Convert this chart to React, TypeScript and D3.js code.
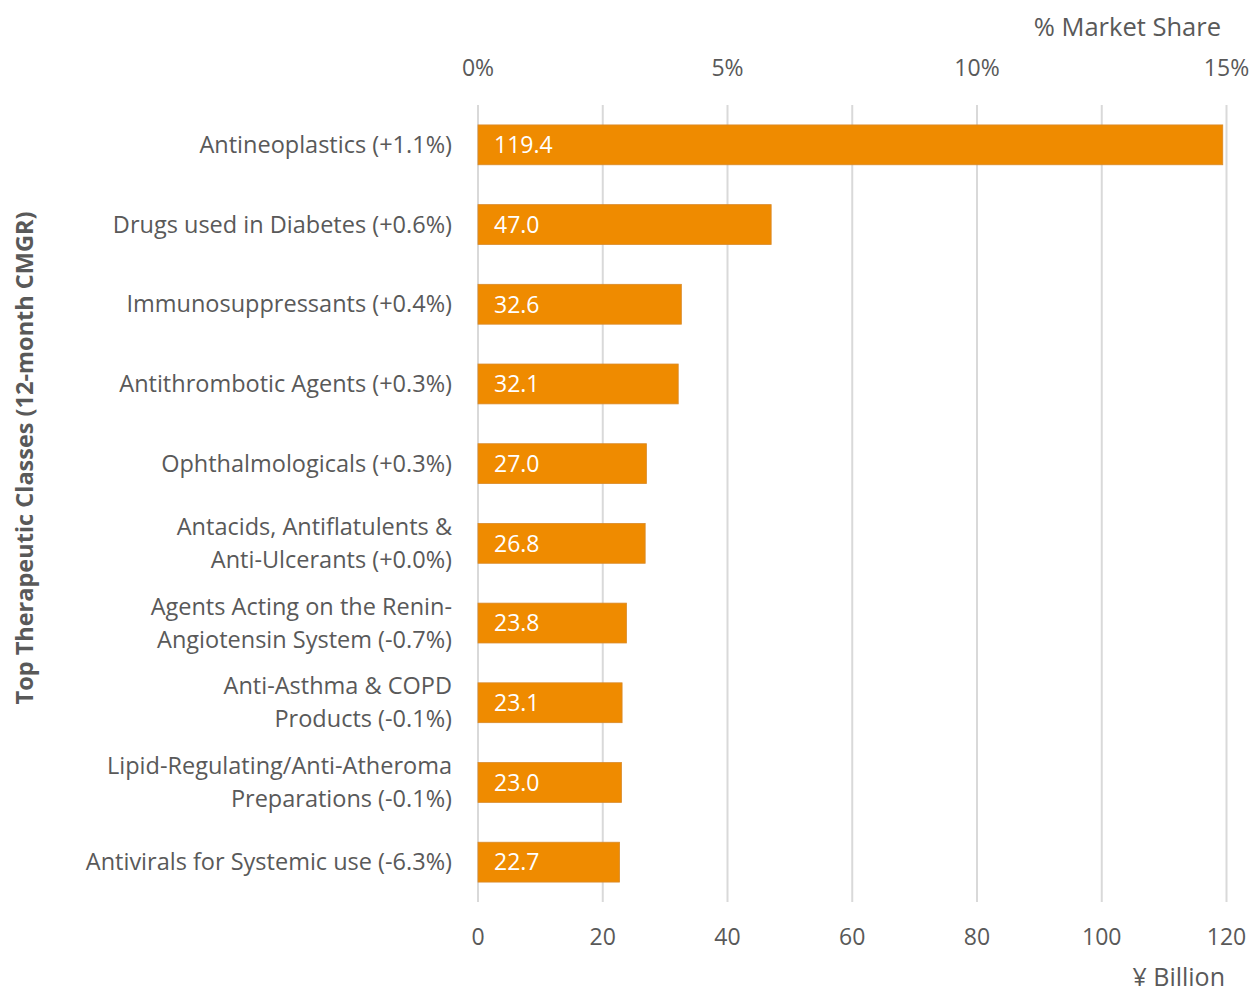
import React, { useEffect, useRef } from "react";
import * as d3 from "d3";

const categories: string[][] = [
  ["Antineoplastics (+1.1%)"],
  ["Drugs used in Diabetes (+0.6%)"],
  ["Immunosuppressants (+0.4%)"],
  ["Antithrombotic Agents (+0.3%)"],
  ["Ophthalmologicals (+0.3%)"],
  ["Antacids, Antiflatulents &", "Anti-Ulcerants (+0.0%)"],
  ["Agents Acting on the Renin-", "Angiotensin System (-0.7%)"],
  ["Anti-Asthma & COPD", "Products (-0.1%)"],
  ["Lipid-Regulating/Anti-Atheroma", "Preparations (-0.1%)"],
  ["Antivirals for Systemic use (-6.3%)"],
];
const values: number[] = [119.4, 47.0, 32.6, 32.1, 27.0, 26.8, 23.8, 23.1, 23.0, 22.7];
const bottomTicks: number[] = [0, 20, 40, 60, 80, 100, 120];
const topTicks: number[] = [0, 5, 10, 15];

const W = 1251;
const H = 995;
const FONT = "'Open Sans', sans-serif";
const TXT = "#595959";

export default function App() {
  const ref = useRef<SVGSVGElement | null>(null);
  useEffect(() => {
    const svg = d3.select(ref.current);
    svg.selectAll("*").remove();
    const left = 478, right = 1226.5, top = 105, bottom = 902;
    const x = d3.scaleLinear().domain([0, 120]).range([left, right]);
    const xp = d3.scaleLinear().domain([0, 15]).range([left, right]);
    const y = d3.scaleBand<number>().domain(d3.range(values.length)).range([top, bottom]).paddingInner(0.5).paddingOuter(0.25);

    // gridlines
    svg.append("g").selectAll("line").data(bottomTicks).join("line")
      .attr("x1", d => x(d)).attr("x2", d => x(d))
      .attr("y1", top).attr("y2", bottom)
      .attr("stroke", "#d9d9d9").attr("stroke-width", 2);

    // bars
    svg.append("g").selectAll("rect").data(values).join("rect")
      .attr("x", x(0)).attr("y", (_, i) => y(i)!)
      .attr("width", d => x(d) - x(0)).attr("height", y.bandwidth())
      .attr("fill", "#EF8B00").attr("stroke", "#d98a2a").attr("stroke-width", 0.8);

    // bar labels
    svg.append("g").selectAll("text").data(values).join("text")
      .attr("x", x(0) + 16).attr("y", (_, i) => y(i)! + y.bandwidth() / 2)
      .attr("dy", "0.36em").attr("fill", "#fff")
      .style("font-family", FONT).style("font-size", "23px")
      .text(d => d.toFixed(1));

    // category labels
    const cat = svg.append("g").selectAll("text").data(categories).join("text")
      .attr("text-anchor", "end").attr("fill", TXT)
      .style("font-family", FONT).style("font-size", "23.5px")
      .attr("x", 452)
      .attr("y", (_, i) => y(i)! + y.bandwidth() / 2);
    cat.each(function (lines) {
      const t = d3.select(this);
      const lh = 33;
      const off = -((lines.length - 1) * lh) / 2;
      lines.forEach((l, k) => {
        t.append("tspan").attr("x", 452).attr("dy", k === 0 ? off + 8 : lh).text(l);
      });
    });

    // bottom ticks
    svg.append("g").selectAll("text").data(bottomTicks).join("text")
      .attr("x", d => x(d)).attr("y", 945).attr("text-anchor", "middle")
      .attr("fill", TXT).style("font-family", FONT).style("font-size", "23px")
      .text(d => String(d));

    // top ticks
    svg.append("g").selectAll("text").data(topTicks).join("text")
      .attr("x", d => xp(d)).attr("y", 76).attr("text-anchor", "middle")
      .attr("fill", TXT).style("font-family", FONT).style("font-size", "23px")
      .text(d => `${d}%`);

    // axis titles
    svg.append("text").attr("x", 1221).attr("y", 36).attr("text-anchor", "end")
      .attr("fill", TXT).style("font-family", FONT).style("font-size", "25.5px")
      .text("% Market Share");
    svg.append("text").attr("x", 1225).attr("y", 986).attr("text-anchor", "end")
      .attr("fill", TXT).style("font-family", FONT).style("font-size", "25px")
      .text("¥ Billion");
    svg.append("text")
      .attr("transform", `translate(33, 458) rotate(-90)`)
      .attr("text-anchor", "middle").attr("fill", TXT)
      .style("font-family", FONT).style("font-size", "23.5px").style("font-weight", "bold")
      .text("Top Therapeutic Classes (12-month CMGR)");
  }, []);
  return (
    <svg ref={ref} width={W} height={H} style={{ position: "absolute", left: 0, top: 0, background: "#fff" }} />
  );
}
